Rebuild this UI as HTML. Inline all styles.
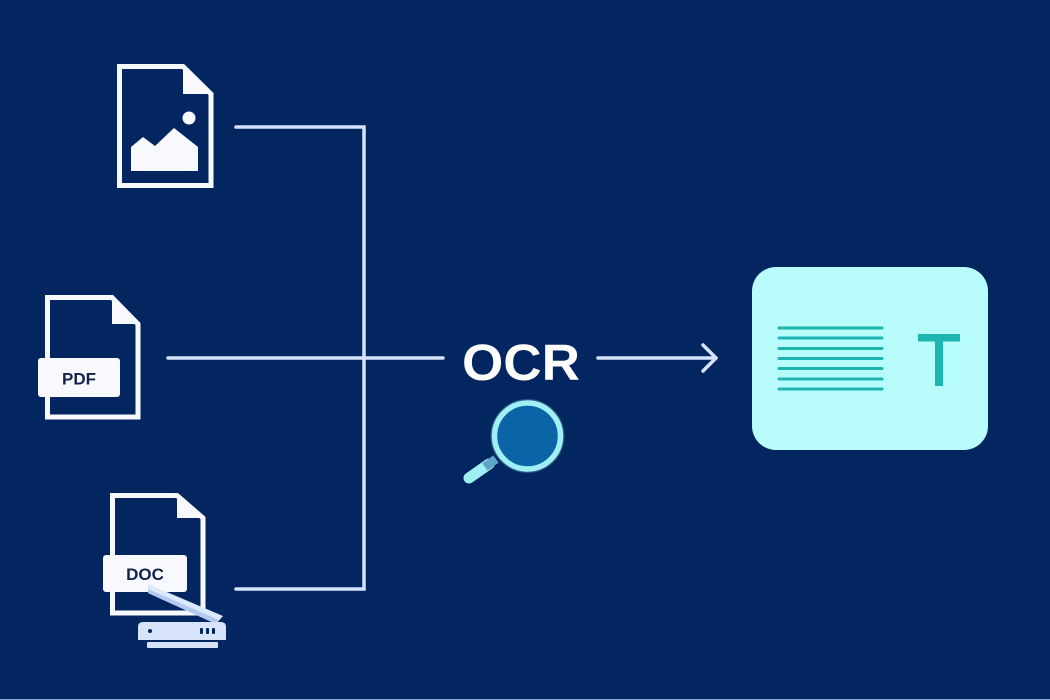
<!DOCTYPE html>
<html>
<head>
<meta charset="utf-8">
<style>
html,body{margin:0;padding:0;background:#032660;}
body{width:1050px;height:700px;overflow:hidden;}
svg{display:block;}
</style>
</head>
<body>
<svg width="1050" height="700" viewBox="0 0 1050 700" xmlns="http://www.w3.org/2000/svg">
  <rect x="0" y="0" width="1050" height="700" fill="#032660"/>
  <rect x="0" y="699" width="1050" height="1" fill="#8fa8d6"/>

  <!-- connectors -->
  <g stroke="#d6e3fa" stroke-width="3.5" fill="none" stroke-linecap="round" stroke-linejoin="miter">
    <polyline points="236,127 364,127 364,589 236,589"/>
    <line x1="168" y1="358" x2="443" y2="358"/>
    <line x1="598" y1="358" x2="716" y2="358"/>
    <polyline points="703,345 716,358 703,371" stroke-width="3.5" stroke-linecap="round" stroke-linejoin="round"/>
  </g>

  <!-- image file icon -->
  <g>
    <path d="M119.5,66.5 H183 L211,94 V185.5 H119.5 Z" fill="none" stroke="#f7f9ff" stroke-width="5" stroke-linejoin="miter"/>
    <path d="M183,66.5 L211,94 H183 Z" fill="#f7f9ff"/>
    <circle cx="189" cy="118" r="6.5" fill="#f7f9ff"/>
    <path d="M131,171 V147 L143,137 L155,146 L174,128 L198,147 V171 Z" fill="#f7f9ff"/>
  </g>

  <!-- PDF file icon -->
  <g>
    <path d="M47.5,297.5 H112 L138,324 V417 H47.5 Z" fill="none" stroke="#f7f9ff" stroke-width="5"/>
    <path d="M112,297.5 L138,324 H112 Z" fill="#f7f9ff"/>
    <rect x="38" y="358" width="82" height="39" rx="3" fill="#f7f9ff"/>
    <text x="79" y="384.5" text-anchor="middle" font-family="Liberation Sans, sans-serif" font-weight="bold" font-size="17" fill="#12234a">PDF</text>
  </g>

  <!-- DOC file icon with scanner -->
  <g>
    <path d="M112.5,495.5 H177 L203,518 V613 H112.5 Z" fill="none" stroke="#f7f9ff" stroke-width="5"/>
    <path d="M177,495.5 L203,518 H177 Z" fill="#f7f9ff"/>
    <rect x="103" y="555" width="84" height="37" rx="3" fill="#f7f9ff"/>
    <text x="145" y="580" text-anchor="middle" font-family="Liberation Sans, sans-serif" font-weight="bold" font-size="17" fill="#12234a">DOC</text>
    <!-- scanner lid -->
    <path d="M148,584 L223,616 L216,624 L148,593 Z" fill="#dce8fb"/>
    <path d="M148,589 L219,620 L216,624 L148,593 Z" fill="#b4c9ee"/>
    <!-- scanner base -->
    <path d="M138,640 V627 Q138,622 143,622 H221 Q226,622 226,627 V640 Z" fill="#d6e3fa"/>
    <rect x="147" y="642" width="71" height="6" rx="1" fill="#d6e3fa"/>
    <circle cx="150" cy="631" r="2" fill="#032660"/>
    <rect x="200" y="628" width="3" height="6" rx="1" fill="#032660"/>
    <rect x="206" y="628" width="3" height="6" rx="1" fill="#032660"/>
    <rect x="212" y="628" width="3" height="6" rx="1" fill="#032660"/>
  </g>

  <!-- OCR label -->
  <text x="521" y="380" text-anchor="middle" font-family="Liberation Sans, sans-serif" font-weight="bold" font-size="51" fill="#ffffff" textLength="118" lengthAdjust="spacingAndGlyphs">OCR</text>

  <!-- magnifier -->
  <g>
    <line x1="469" y1="478" x2="489" y2="464" stroke="#9ff0f4" stroke-width="11" stroke-linecap="round"/>
    <line x1="485" y1="467" x2="496" y2="459" stroke="#5fa4c8" stroke-width="9" stroke-linecap="butt"/>
    <circle cx="527.5" cy="436" r="33" fill="#0a64a6" stroke="#9ff0f4" stroke-width="5.5"/>
    <circle cx="527.5" cy="436" r="36" fill="none" stroke="#9ff0f4" stroke-opacity="0.25" stroke-width="2"/>
  </g>

  <!-- output card -->
  <g>
    <rect x="752" y="267" width="236" height="183" rx="24" fill="#b8fcfc"/>
    <g stroke="#1cb5b0" stroke-width="3" stroke-linecap="round">
      <line x1="779" y1="328" x2="882" y2="328"/>
      <line x1="779" y1="338" x2="882" y2="338"/>
      <line x1="779" y1="348.5" x2="882" y2="348.5"/>
      <line x1="779" y1="358.5" x2="882" y2="358.5"/>
      <line x1="779" y1="368.5" x2="882" y2="368.5"/>
      <line x1="779" y1="379" x2="882" y2="379"/>
      <line x1="779" y1="389" x2="882" y2="389"/>
    </g>
    <rect x="918" y="334" width="42" height="7.5" fill="#1cb5b0"/>
    <rect x="935" y="334" width="8" height="52" fill="#1cb5b0"/>
  </g>
</svg>
</body>
</html>
